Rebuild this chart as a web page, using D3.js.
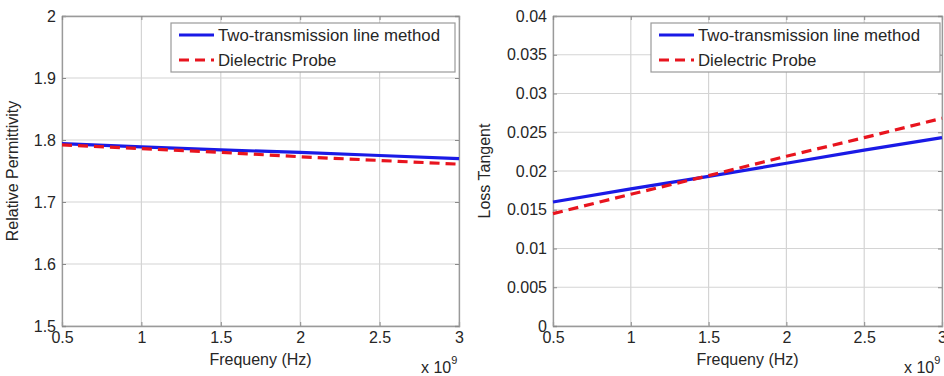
<!DOCTYPE html>
<html><head><meta charset="utf-8">
<script src="https://cdn.jsdelivr.net/npm/d3@7"></script>
<style>
html,body{margin:0;padding:0;background:#fff;}
svg{display:block;}
text{font-family:"Liberation Sans",Arial,sans-serif;fill:#262626;}
</style></head>
<body>
<svg id="chart" width="944" height="376"></svg>
<script>
// Data (frequency in units of 1e9 Hz)
const freq = [0.5, 1, 1.5, 2, 2.5, 3];
const permTwoLine = [1.794, 1.789, 1.784, 1.780, 1.775, 1.770];
const permProbe   = [1.792, 1.786, 1.780, 1.773, 1.767, 1.761];
const lossTwoLine = [0.0160, 0.0177, 0.0193, 0.0210, 0.0227, 0.0243];
const lossProbe   = [0.0145, 0.0170, 0.0194, 0.0219, 0.0243, 0.0268];
const xTicks = [0.5, 1, 1.5, 2, 2.5, 3];
const permTicks = [1.5, 1.6, 1.7, 1.8, 1.9, 2];
const lossTicks = [0, 0.005, 0.01, 0.015, 0.02, 0.025, 0.03, 0.035, 0.04];
const seriesNames = ["Two-transmission line method", "Dielectric Probe"];
const xLabel = "Frequeny (Hz)";

const svg = d3.select("#chart");
const FS = 16;

function panel(o) {
  const g = svg.append("g");
  const x = d3.scaleLinear().domain([0.5, 3]).range([o.x0, o.x1]);
  const y = d3.scaleLinear().domain(o.yDomain).range([o.y1, o.y0]);

  // grid
  g.append("g").selectAll("line.gx").data(xTicks).join("line")
    .attr("x1", d => x(d)).attr("x2", d => x(d)).attr("y1", o.y0).attr("y2", o.y1)
    .attr("stroke", "#d4d4d4").attr("stroke-width", 1.2);
  g.append("g").selectAll("line.gy").data(o.yTicks).join("line")
    .attr("x1", o.x0).attr("x2", o.x1).attr("y1", d => y(d)).attr("y2", d => y(d))
    .attr("stroke", "#d4d4d4").attr("stroke-width", 1.2);

  // axes with inward ticks
  const ax = d3.axisBottom(x).tickValues(xTicks).tickSize(-4).tickPadding(8).tickFormat(d3.format("~g"));
  const ay = d3.axisLeft(y).tickValues(o.yTicks).tickSize(-4).tickPadding(6).tickFormat(d3.format("~g"));
  const gx = g.append("g").attr("transform", `translate(0,${o.y1})`).call(ax);
  const gy = g.append("g").attr("transform", `translate(${o.x0},0)`).call(ay);
  const gxt = g.append("g").attr("transform", `translate(0,${o.y0})`).call(d3.axisTop(x).tickValues(xTicks).tickSize(-4).tickFormat(""));
  const gyr = g.append("g").attr("transform", `translate(${o.x1},0)`).call(d3.axisRight(y).tickValues(o.yTicks).tickSize(-4).tickFormat(""));
  [gx, gy, gxt, gyr].forEach(a => {
    a.select(".domain").attr("stroke", "#9a9a9a").attr("stroke-width", 1.3);
    a.selectAll(".tick line").attr("stroke", "#8a8a8a");
    a.selectAll("text").attr("font-size", FS).attr("fill", "#262626")
      .attr("font-family", "'Liberation Sans',Arial,sans-serif");
  });
  gx.selectAll("text").attr("dy", "0.55em");

  // lines
  const line = d3.line().x((d, i) => x(freq[i])).y(d => y(d));
  g.append("path").datum(o.s1).attr("d", line).attr("fill", "none")
    .attr("stroke", "#1a1ae6").attr("stroke-width", 3.2);
  g.append("path").datum(o.s2).attr("d", line).attr("fill", "none")
    .attr("stroke", "#e8141e").attr("stroke-width", 3.2).attr("stroke-dasharray", "10,6");

  // labels
  g.append("text").attr("x", (o.x0 + o.x1) / 2).attr("y", 365).attr("text-anchor", "middle")
    .attr("font-size", FS).text(xLabel);
  g.append("text").attr("transform", `translate(${o.ylx},${(o.y0 + o.y1) / 2}) rotate(-90)`)
    .attr("text-anchor", "middle").attr("font-size", FS).text(o.yLabel);
  const ex = g.append("text").attr("x", o.x1 - 38).attr("y", 373).attr("font-size", FS);
  ex.append("tspan").text("x 10");
  ex.append("tspan").attr("dy", -9).attr("font-size", 11).text("9");

  // legend
  const lg = g.append("g");
  lg.append("rect").attr("x", o.lx).attr("y", 23).attr("width", o.lw).attr("height", 49)
    .attr("fill", "#fff").attr("stroke", "#9a9a9a").attr("stroke-width", 1.2);
  const rows = [{c: "#1a1ae6", dash: null}, {c: "#e8141e", dash: "10,6"}];
  rows.forEach((r, i) => {
    const yy = 35 + i * 25;
    lg.append("line").attr("x1", o.lx + 8).attr("x2", o.lx + 43).attr("y1", yy).attr("y2", yy)
      .attr("stroke", r.c).attr("stroke-width", 3.2).attr("stroke-dasharray", r.dash);
    lg.append("text").attr("x", o.lx + 47).attr("y", yy).attr("dy", "0.35em")
      .attr("font-size", 16.8).text(seriesNames[i]);
  });
}

panel({x0: 62, x1: 459, y0: 16, y1: 326, yDomain: [1.5, 2], yTicks: permTicks,
  s1: permTwoLine, s2: permProbe, yLabel: "Relative Permittivity", ylx: 18, lx: 171, lw: 284});
panel({x0: 553, x1: 942, y0: 16, y1: 326, yDomain: [0, 0.04], yTicks: lossTicks,
  s1: lossTwoLine, s2: lossProbe, yLabel: "Loss Tangent", ylx: 490, lx: 651, lw: 289});
</script>
</body></html>
